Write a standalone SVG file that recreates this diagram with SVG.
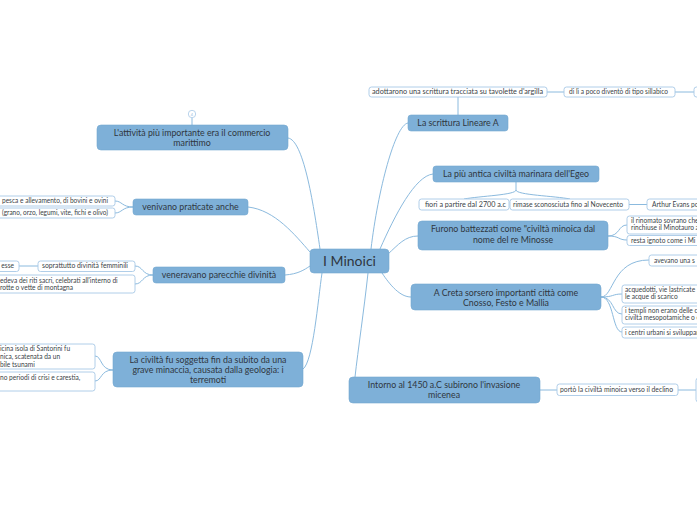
<svg xmlns="http://www.w3.org/2000/svg" width="697" height="520" viewBox="0 0 697 520">
<style>
.main{fill:#7eb0d8;stroke:#74a7d0;stroke-width:0.6}
.sub{fill:#fff;stroke:#a7c8e6;stroke-width:0.9}
.mt{font-family:Lato,"Open Sans",sans-serif;font-size:8.8px;fill:#2f3640;text-anchor:middle}
.st{font-family:Lato,"Open Sans",sans-serif;font-size:6.6px;fill:#3a3f47}
.c{fill:none;stroke:#8bbade;stroke-width:1}
</style>
<rect width="697" height="520" fill="#fff"/>
<g id="connectors">
<path class="c" d="M288,138 C303,140 313,200 320,249"/>
<path class="c" d="M248,207 C275,210 295,235 310,252"/>
<path class="c" d="M285,275 C298,274 304,270 310,266"/>
<path class="c" d="M303,369 C313,362 318,300 322,273"/>
<path class="c" d="M371,249 C378,190 395,125 408,123"/>
<path class="c" d="M380,249 C395,215 415,176 433,174"/>
<path class="c" d="M388,254 C398,245 405,236 418,236"/>
<path class="c" d="M382,273 C390,285 400,297 411,297"/>
<path class="c" d="M368,273 C364,310 358,350 355,377"/>
<path class="c" d="M192,118 L192,125"/>
<path class="c" d="M133,207 C122,207 122,201 115,201"/>
<path class="c" d="M133,207 C122,207 122,213 115,213"/>
<path class="c" d="M153,275 C142,275 143,266 135,266"/>
<path class="c" d="M153,275 C142,275 143,284 135,284"/>
<path class="c" d="M19,266 L38,266"/>
<path class="c" d="M113,370 C100,370 102,356 95,356"/>
<path class="c" d="M113,370 C100,370 102,381 95,381"/>
<path class="c" d="M458,97 L458,115"/>
<path class="c" d="M547,92 L564,92"/>
<path class="c" d="M675,92 L694,92"/>
<path class="c" d="M516,182 L516,190 C516,195 480,196 464,199"/>
<path class="c" d="M516,190 C516,195 555,196 570,199"/>
<path class="c" d="M629,204.5 L647,204.5"/>
<path class="c" d="M608,236 C620,236 618,225 627,225"/>
<path class="c" d="M608,236 C620,236 618,240 627,240"/>
<path class="c" d="M601,297 C614,297 612,260 649,260"/>
<path class="c" d="M601,297 C614,297 612,294 622,294"/>
<path class="c" d="M601,297 C614,297 612,314 622,314"/>
<path class="c" d="M601,297 C614,297 612,332 622,332"/>
<path class="c" d="M540,390 L557,390"/>
<path class="c" d="M678,390 L696,390"/>
</g>
<g id="center">
<rect class="main" x="310" y="249" width="79" height="24" rx="4"/>
<text class="mt" x="349.5" y="266" style="font-size:14px">I Minoici</text>
</g>
<g id="n1">
<circle cx="192" cy="114" r="3.7" fill="#fff" stroke="#a7c8e6" stroke-width="0.8"/>
<text x="192" y="115.5" style="font-family:Lato,sans-serif;font-size:4px;fill:#9cc0e0;text-anchor:middle">4</text>
<rect class="main" x="97" y="125" width="191" height="25" rx="4"/>
<text class="mt" x="192" y="136">L'attività più importante era il commercio</text>
<text class="mt" x="192" y="146">marittimo</text>
</g>
<g id="n2">
<rect class="main" x="133" y="199" width="115" height="16" rx="3"/>
<text class="mt" x="190.5" y="210">venivano praticate anche</text>
<rect class="sub" x="-20" y="196" width="135" height="10" rx="2.5"/>
<text class="st" x="2" y="203" textLength="106" lengthAdjust="spacingAndGlyphs">pesca e allevamento, di bovini e ovini</text>
<rect class="sub" x="-20" y="208" width="135" height="10" rx="2.5"/>
<text class="st" x="2" y="215" textLength="106" lengthAdjust="spacingAndGlyphs">(grano, orzo, legumi, vite, fichi e olivo)</text>
</g>
<g id="n3">
<rect class="main" x="153" y="267" width="132" height="16" rx="3"/>
<text class="mt" x="219" y="278">veneravano parecchie divinità</text>
<rect class="sub" x="38" y="261" width="97" height="10.5" rx="2.5"/>
<text class="st" x="42" y="268" textLength="86" lengthAdjust="spacingAndGlyphs">soprattutto divinità femminili</text>
<rect class="sub" x="-20" y="261" width="39" height="10.5" rx="2.5"/>
<text class="st" x="14" y="268" text-anchor="end">esse</text>
<rect class="sub" x="-20" y="275" width="155" height="18" rx="2.5"/>
<text class="st" x="0" y="283">edeva dei riti sacri, celebrati all'interno di</text>
<text class="st" x="0" y="290">rotte o vette di montagna</text>
</g>
<g id="n4">
<rect class="main" x="113" y="352" width="190" height="35" rx="4"/>
<text class="mt" x="208" y="363">La civiltà fu soggetta fin da subito da una</text>
<text class="mt" x="208" y="373">grave minaccia, causata dalla geologia: i</text>
<text class="mt" x="208" y="383">terremoti</text>
<rect class="sub" x="-20" y="344" width="115" height="25" rx="2.5"/>
<text class="st" x="0" y="351">icina isola di Santorini fu</text>
<text class="st" x="0" y="359">nica, scatenata da un</text>
<text class="st" x="0" y="367">bile tsunami</text>
<rect class="sub" x="-20" y="372" width="115" height="19" rx="2.5"/>
<text class="st" x="0" y="380">no periodi di crisi e carestia,</text>
</g>
<g id="n5">
<rect class="main" x="408" y="115" width="100" height="16" rx="3"/>
<text class="mt" x="458" y="126">La scrittura Lineare A</text>
<rect class="sub" x="369" y="87" width="178" height="10" rx="2.5"/>
<text class="st" x="372" y="94" textLength="171" lengthAdjust="spacingAndGlyphs">adottarono una scrittura  tracciata su tavolette d'argilla</text>
<rect class="sub" x="564" y="87" width="111" height="10" rx="2.5"/>
<text class="st" x="569" y="94" textLength="99" lengthAdjust="spacingAndGlyphs">di lì a poco diventò di tipo sillabico</text>
<rect class="sub" x="694" y="87" width="30" height="10" rx="2.5"/>
</g>
<g id="n6">
<rect class="main" x="433" y="166" width="166" height="16" rx="3"/>
<text class="mt" x="516" y="177">La più antica civiltà marinara dell'Egeo</text>
<rect class="sub" x="419" y="199" width="90" height="11" rx="2.5"/>
<text class="st" x="425" y="206.5" textLength="81" lengthAdjust="spacingAndGlyphs">fiori a partire dal 2700 a.c</text>
<rect class="sub" x="510" y="199" width="119" height="11" rx="2.5"/>
<text class="st" x="513" y="206.5" textLength="110" lengthAdjust="spacingAndGlyphs">rimase sconosciuta fino al Novecento</text>
<rect class="sub" x="647" y="199" width="70" height="11" rx="2.5"/>
<text class="st" x="652" y="206.5">Arthur Evans po</text>
</g>
<g id="n7">
<rect class="main" x="418" y="221" width="190" height="29" rx="4"/>
<text class="mt" x="513" y="232">Furono battezzati come "civiltà minoica dal</text>
<text class="mt" x="513" y="243">nome del re Minosse</text>
<rect class="sub" x="627" y="216" width="90" height="18" rx="2.5"/>
<text class="st" x="631" y="223">il rinomato sovrano che</text>
<text class="st" x="631" y="230">rinchiuse il Minotauro a</text>
<rect class="sub" x="627" y="235.5" width="90" height="10" rx="2.5"/>
<text class="st" x="631" y="242.5">resta ignoto come i Mi</text>
</g>
<g id="n8">
<rect class="main" x="411" y="284" width="190" height="26" rx="4"/>
<text class="mt" x="506" y="296">A Creta sorsero importanti città come</text>
<text class="mt" x="506" y="305.5">Cnosso, Festo e Mallia</text>
<rect class="sub" x="649" y="255" width="70" height="11" rx="2.5"/>
<text class="st" x="654" y="262.5">avevano una s</text>
<rect class="sub" x="622" y="285" width="95" height="18" rx="2.5"/>
<text class="st" x="625" y="292">acquedotti, vie lastricate</text>
<text class="st" x="625" y="299">le acque di scarico</text>
<rect class="sub" x="622" y="306" width="95" height="18" rx="2.5"/>
<text class="st" x="625" y="313">i templi non erano delle c</text>
<text class="st" x="625" y="320">civiltà mesopotamiche o e</text>
<rect class="sub" x="622" y="327" width="95" height="11" rx="2.5"/>
<text class="st" x="625" y="334.5">i centri urbani si sviluppar</text>
</g>
<g id="n9">
<rect class="main" x="349" y="377" width="191" height="26" rx="4"/>
<text class="mt" x="444" y="388">Intorno al 1450 a.C  subirono l'invasione</text>
<text class="mt" x="444" y="398">micenea</text>
<rect class="sub" x="557" y="384" width="121" height="11.5" rx="2.5"/>
<text class="st" x="560" y="392" textLength="113" lengthAdjust="spacingAndGlyphs">portò la civiltà minoica verso il declino</text>
<rect class="sub" x="696" y="378" width="30" height="24" rx="2.5"/>
</g>
</svg>
